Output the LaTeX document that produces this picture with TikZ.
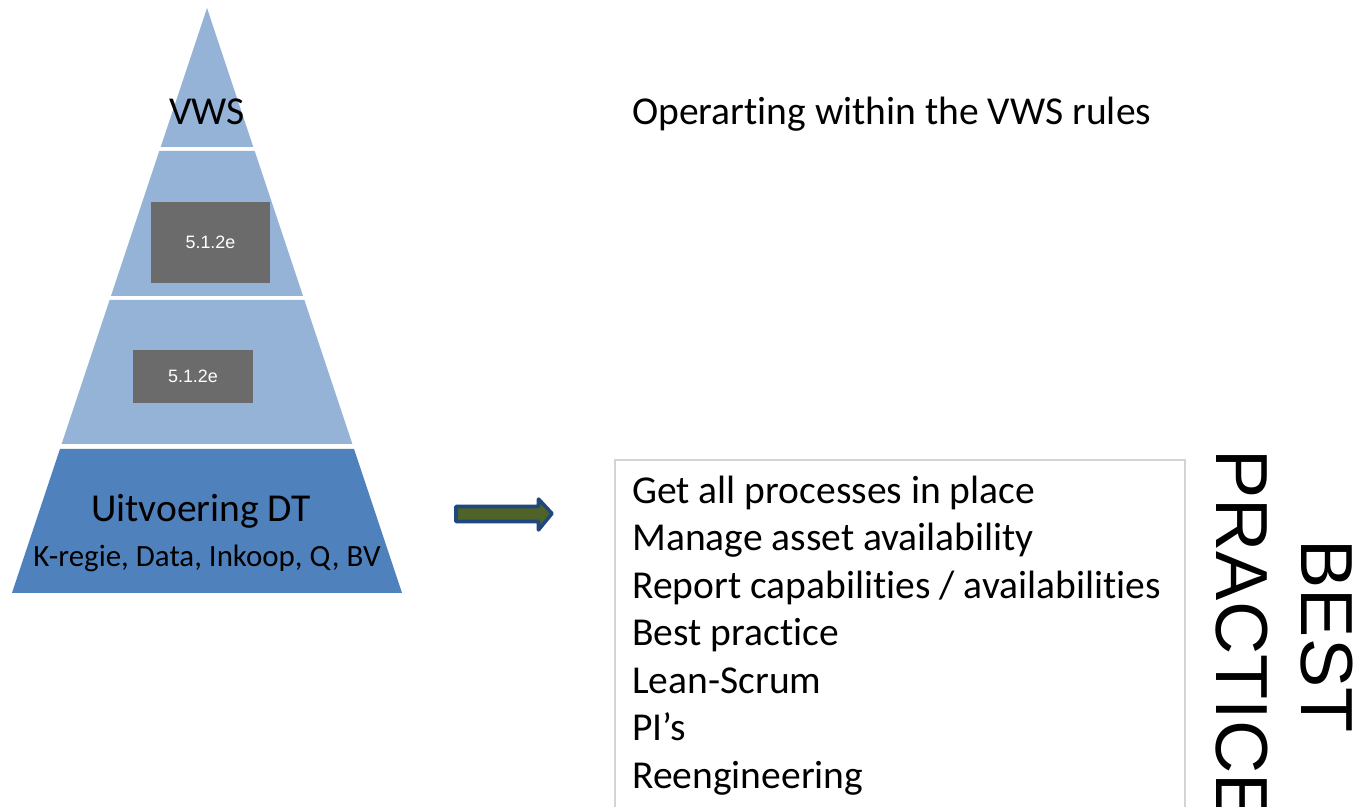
\documentclass[tikz,border=0pt]{standalone}
\usepackage{fontspec}
\setmainfont{Carlito}[Ligatures=NoCommon]
\newfontfamily\arialfont{Liberation Sans}
\usetikzlibrary{positioning}
\definecolor{tierlight}{HTML}{95B3D7}
\definecolor{tierdark}{HTML}{4F81BD}
\definecolor{boxgrey}{HTML}{6B6B6B}
\definecolor{arrowfill}{HTML}{4F6228}
\definecolor{arrowline}{HTML}{1F497D}
\definecolor{frameline}{HTML}{D4D4D4}

\begin{document}
\begin{tikzpicture}[x=0.02cm,y=-0.02cm,
    tier/.style={fill=tierlight,draw=none},
    base tier/.style={fill=tierdark,draw=none},
    grey box/.style={fill=boxgrey,text=white,inner sep=0,
                     font=\arialfont\fontsize{10.2}{12}\selectfont},
    big text/.style={inner sep=0,font=\fontsize{22.5}{27}\selectfont},
    small text/.style={inner sep=0,font=\fontsize{17.6}{21}\selectfont},
    side text/.style={inner sep=0,font=\arialfont\fontsize{42}{48.4}\selectfont}]
      \clip (0,0) rectangle (1357,807);
      \fill[white] (0,0) rectangle (1357,807);

      % pyramid
      \fill[tier] (207,8) -- (253.3,147) -- (160.7,147) -- cycle;
      \foreach \ytop/\ybot in {151/296, 300/444}
        \fill[tier] ({207-(\ytop-8)/3},\ytop) -- ({207+(\ytop-8)/3},\ytop)
                 -- ({207+(\ybot-8)/3},\ybot) -- ({207-(\ybot-8)/3},\ybot) -- cycle;
      \fill[base tier] (60,449) -- (354,449) -- (402,593) -- (12,593) -- cycle;

      \node[big text, anchor=base] (vws) at (207,125) {VWS};
      \node[grey box, minimum width=2.38cm, minimum height=1.62cm] (rule1) at (210.5,242.5) {5.1.2e};
      \node[grey box, minimum width=2.4cm, minimum height=1.06cm] (rule2) at (193,376.5) {5.1.2e};
      \node[big text, anchor=base] (uitv) at (201,522) {Uitvoering DT};
      \node[small text, anchor=base] (regie) at (207,567) {K-regie, Data, Inkoop, Q, BV};

      % arrow
      \draw[arrowline, fill=arrowfill, line width=2pt, line join=round]
        (456,506.5) -- (538.5,506.5) -- (538.5,499) -- (552,513.5)
        -- (538.5,530) -- (538.5,521.5) -- (456,521.5) -- cycle;

      % right side
      \node[big text, anchor=base west] (rules) at (632,125) {Operarting within the VWS rules};
      \draw[frameline, line width=1pt] (615,460) rectangle (1185,840);
      \node[big text, align=left, anchor=base west] (list) at (632,788)
        {Get all processes in place\\Manage asset availability\\Report capabilities / availabilities\\Best practice\\Lean-Scrum\\PI’s\\Reengineering};
      \node[side text, align=center, rotate=-90] (best) at (1284,636) {BEST\\PRACTICE};
\end{tikzpicture}
\end{document}
